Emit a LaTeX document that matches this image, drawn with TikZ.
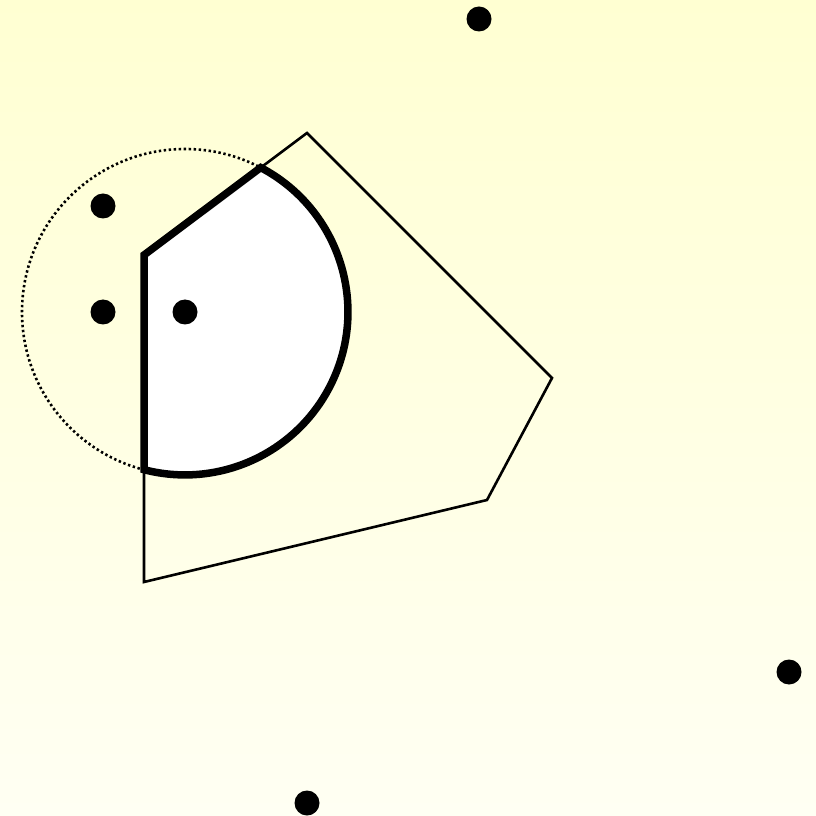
\documentclass[tikz,border=0pt]{standalone}
\begin{document}
\begin{tikzpicture}[x=1pt,y=1pt,
  dotmark/.style={fill=black,draw=none},
  polyline/.style={draw=black,line width=2.6pt,line join=miter},
  thickedge/.style={draw=black,fill=white,line width=7.5pt,line join=miter},
  dottedring/.style={draw=black,line width=2.6pt,dash pattern=on 2.4pt off 2.6pt}]
\definecolor{topy}{RGB}{255,255,210}
\definecolor{boty}{RGB}{255,255,243}
\shade[top color=topy,bottom color=boty] (0,0) rectangle (816,815);
\useasboundingbox (0,0) rectangle (816,815);
\coordinate (c) at (185,503);
\draw[dottedring] (c) circle[radius=163];
\draw[polyline] (307,682) -- (552,437) -- (487,315) -- (144,233) -- (144,560) -- cycle;
\draw[thickedge] (144,560) -- (260.7,647.4) arc[start angle=62.3,end angle=-104.5,radius=163] -- cycle;
\coordinate (d1) at (479,796);
\coordinate (d2) at (103,609);
\coordinate (d3) at (103,503);
\coordinate (d4) at (185,503);
\coordinate (d5) at (789,143);
\coordinate (d6) at (307,12);
\foreach \p in {d1,d2,d3,d4,d5,d6} \fill[dotmark] (\p) circle[radius=12.5];
\end{tikzpicture}
\end{document}
